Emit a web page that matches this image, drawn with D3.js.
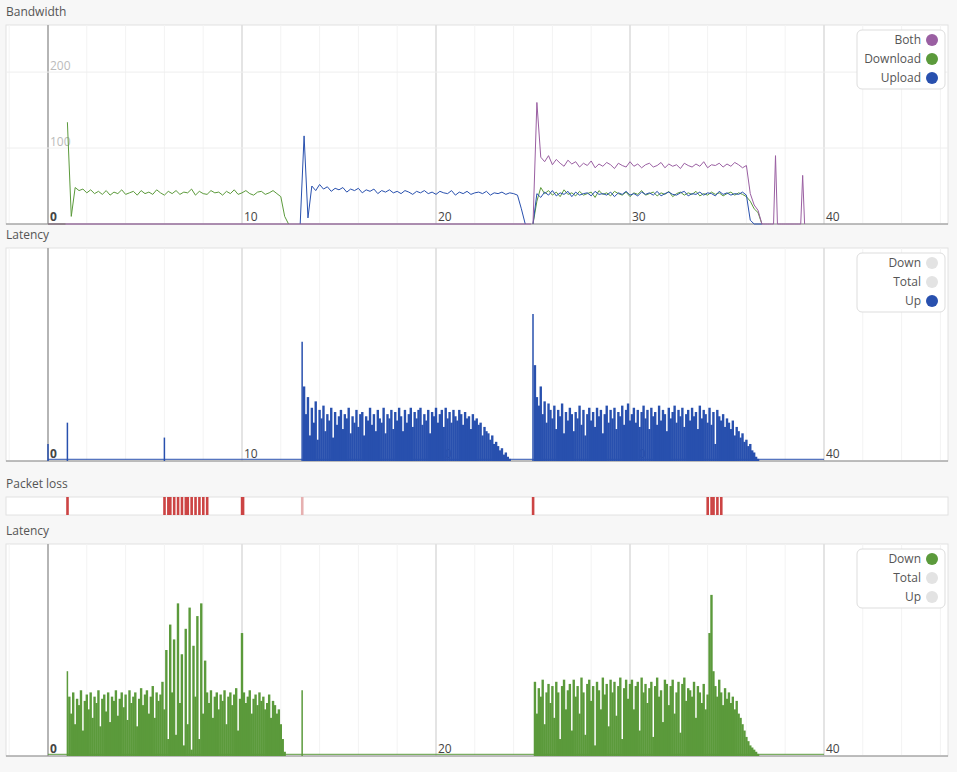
<!DOCTYPE html><html><head><meta charset="utf-8">
<script src="https://cdn.jsdelivr.net/npm/d3@7"></script>
<style>body{margin:0;background:#f7f7f7;font-family:"Open Sans",sans-serif}</style></head><body>
<svg id="c" width="957" height="772"></svg>
<script>
const xTicks=[0,10,20,30,40];
const bwTicks=[100,200];
// bandwidth segments: start time, step, values (Mbit/s)
const dlSegs=[{t0:0,step:0.9,v:[0,0]},{t0:1.0,step:0.2,v:[134,10,48,44,46,41,45,40,43,39,44,38,42,40,45,39,41,43,38,44,40,42,39,45,41,38,43,40,44,39,42,41,46,38,43,40,39,44,41,42,38,43,40,45,39,41,44,40,38,42,43,39,41,44,40,36,10,0]},
 {t0:25.0,step:0.2,v:[0,30,48,40,44,38,42,36,45,39,41,37,43,38,40,42,35,44,39,41,37,43,40,38,42,36,41,39,44,38,40,42,37,41,39,43,36,40,42,38,41,39,43,37,40,38,42,39,41,37,40,42,38,41,39,36,30,20,15,0]}];
const ulSegs=[{t0:13.0,step:0.2,v:[0,116,8,50,44,52,46,49,43,47,45,48,42,46,44,47,41,45,43,46,40,44,42,45,41,43,40,44,42,39,43,41,44,40,42,39,43,41,40,44,38,42,40,43,39,41,42,40,43,38,41,40,42,39,41,40,38,20,0]},
 {t0:25.0,step:0.2,v:[0,40,35,42,38,44,37,41,39,43,36,42,38,40,41,37,43,39,40,38,42,36,41,39,43,38,40,37,42,39,41,38,43,37,40,42,39,38,41,43,37,40,39,42,38,41,40,37,43,39,41,38,40,39,42,38,5,0,0,0]}];
const bothSegs=[{t0:0,step:24.9,v:[0,0]},{t0:25.0,step:0.2,v:[0,160,88,82,90,78,85,80,76,84,79,82,75,80,77,83,74,79,76,81,78,73,80,77,75,82,76,79,74,78,80,75,77,81,74,79,76,78,73,80,77,75,79,76,82,74,78,77,80,75,79,76,81,78,74,77,40,25,18,0]},
 {t0:36.8,step:0.1,v:[0,0,0,0,0,0,0,90,0,0,0,0,0,0,0,0,0,0,0,0,0,64,0]}];
// latency up (relative %), spikes
const upSpikes=[[0,8],[1.0,18],[6.0,11],[13.1,56],[25.0,69]];
const upSegs=[{t0:13.2,step:0.1,v:[35,22,30,12,25,18,28,10,24,20,26,14,22,19,25,11,23,17,21,24,15,22,20,25,13,21,18,24,16,22,23,12,21,19,25,17,22,14,24,20,18,25,13,22,20,24,15,23,19,25,21,14,24,18,22,25,16,23,20,24,25,17,22,19,24,13,23,21,25,18,22,24,16,25,20,23,18,24,21,19,24,22,17,23,20,21,15,22,19,20,17,18,12,16,14,13,10,12,8,9,7,5,6,3,4,2,1]},
 {t0:25.1,step:0.1,v:[45,30,26,35,22,28,18,27,24,20,26,15,24,21,27,13,23,19,25,22,14,23,20,26,17,24,12,22,25,19,23,16,25,21,24,13,22,26,18,24,20,25,15,23,21,26,17,24,27,19,22,25,18,24,16,23,26,20,24,15,25,21,23,17,26,19,24,22,14,25,20,23,26,18,24,21,25,16,22,24,19,25,21,23,15,26,20,24,22,18,25,17,23,8,24,21,19,22,16,20,18,15,19,12,16,14,11,13,9,10,7,8,5,4,2,1]}];
const upBase=[[0,0.8],[40,0.8]];
const downSpikes=[[1.0,40],[13.1,31]];
const downSegs=[{t0:1.1,step:0.1,v:[28,20,30,15,27,24,31,12,26,29,22,30,18,28,25,31,14,27,29,21,30,16,28,26,31,19,27,30,23,29,17,31,25,28,30,14,27,32,24,29,31,20,28,33,18,30,26,29,35,22,50,8,62,30,55,10,72,25,48,5,60,15,70,3,52,28,66,8,72,20,45,30,25,31,18,28,30,22,29,26,31,15,28,30,24,29,32,12,27,58,30,25,28,31,20,27,29,24,30,26,28,22,25,29,18,26,24,20,22,15,8,2]},
 {t0:25.1,step:0.1,v:[35,20,32,28,36,15,30,34,25,33,18,35,30,8,33,36,22,31,34,12,36,28,33,20,37,30,10,34,36,26,33,5,35,31,22,37,29,34,14,36,30,35,19,33,37,8,32,36,27,34,36,22,33,35,12,37,30,34,25,32,35,9,33,37,28,31,16,36,34,24,33,36,20,30,35,11,34,37,26,32,31,28,35,18,33,30,25,34,22,29,58,76,40,33,28,36,30,24,32,27,30,25,28,22,26,20,18,15,12,9,7,5,4,3,2,1]}];
const lossTimes=[1.0,6.0,6.2,6.3,6.5,6.7,6.9,7.1,7.2,7.4,7.6,7.8,8.0,8.2,10.0,10.05,13.1,25.0,34.0,34.2,34.3,34.5,34.7];
const bwLegend=[["Both","#9a5fa2"],["Download","#5b9a3b"],["Upload","#2850ae"]];
const upLegend=[["Down","#e3e3e3"],["Total","#e3e3e3"],["Up","#2850ae"]];
const dnLegend=[["Down","#5b9a3b"],["Total","#e3e3e3"],["Up","#e3e3e3"]];

const svg=d3.select("#c");
const x=d3.scaleLinear().domain([0,40]).range([48,824]);
const L=6,R=948;
function pts(segs){return segs.map(s=>s.v.map((v,i)=>[s.t0+i*s.step,v]));}
function panel(title,top,bot,ymax,labelTicks){
  svg.append("text").attr("x",6).attr("y",top-9).attr("font-size",12).attr("fill","#555").text(title);
  svg.append("rect").attr("x",L).attr("y",top).attr("width",R-L).attr("height",bot-top).attr("fill","#fff").attr("stroke","#e2e2e2");
  const y=d3.scaleLinear().domain([0,ymax]).range([bot,top]);
  const g=svg.append("g");
  g.selectAll(".mn").data(d3.range(-2,47,2)).join("line").attr("x1",d=>x(d)).attr("x2",d=>x(d)).attr("y1",top).attr("y2",bot).attr("stroke","#f3f3f3");
  g.selectAll(".mj").data(xTicks).join("line").attr("x1",d=>x(d)).attr("x2",d=>x(d)).attr("y1",top).attr("y2",bot).attr("stroke",d=>d===0?"#b5b5b5":"#dcdcdc").attr("stroke-width",d=>d===0?2:1.5);
  g.selectAll(".lb").data(labelTicks).join("text").attr("x",d=>x(d)+2).attr("y",bot-3).attr("font-size",12).attr("fill","#444").attr("font-weight",d=>d===0?"bold":"normal").text(d=>d);
  svg.append("line").attr("x1",L).attr("x2",R).attr("y1",bot).attr("y2",bot).attr("stroke","#888");
  return y;
}
function legend(top,items){
  const g=svg.append("g");
  g.append("rect").attr("x",857).attr("y",top).attr("width",88).attr("height",59).attr("rx",5).attr("fill","#fff").attr("stroke","#ddd");
  items.forEach((it,i)=>{
    g.append("text").attr("x",921).attr("y",top+14+i*19).attr("text-anchor","end").attr("font-size",12).attr("fill","#555").text(it[0]);
    g.append("circle").attr("cx",932).attr("cy",top+10+i*19).attr("r",6).attr("fill",it[1]);
  });
}
// Panel 1
const y1=panel("Bandwidth",25,224,262,xTicks);
svg.selectAll(".h1").data(bwTicks).join("line").attr("x1",L).attr("x2",R).attr("y1",d=>y1(d)).attr("y2",d=>y1(d)).attr("stroke","#eee");
svg.selectAll(".hl").data(bwTicks).join("text").attr("x",50).attr("y",d=>y1(d)-2).attr("font-size",12).attr("fill","#bbb").text(d=>d);
const line1=d3.line().x(d=>x(d[0])).y(d=>y1(d[1]));
[[dlSegs,"#5b9a3b"],[ulSegs,"#2850ae"],[bothSegs,"#9a5fa2"]].forEach(([s,c])=>{
  pts(s).forEach(p=>svg.append("path").attr("d",line1(p)).attr("fill","none").attr("stroke",c).attr("stroke-width",1));
});
legend(30,bwLegend);
// Panel 2
const y2=panel("Latency",248,461,100,xTicks);
function spikes(y,segs,sp,base,c){
  svg.append("path").attr("d",d3.line().x(d=>x(d[0])).y(d=>y(d[1]))(base)).attr("stroke",c).attr("fill","none");
  svg.selectAll(null).data(pts(segs).flat()).join("line").attr("x1",d=>x(d[0])).attr("x2",d=>x(d[0])).attr("y1",y(0)).attr("y2",d=>y(d[1])).attr("stroke",c).attr("stroke-width",2.4);
  svg.selectAll(null).data(sp).join("line").attr("x1",d=>x(d[0])).attr("x2",d=>x(d[0])).attr("y1",y(0)).attr("y2",d=>y(d[1])).attr("stroke",c).attr("stroke-width",1.5);
}
spikes(y2,upSegs,upSpikes,upBase,"#2850ae");
legend(253,upLegend);
// Packet loss
svg.append("text").attr("x",6).attr("y",488).attr("font-size",12).attr("fill","#555").text("Packet loss");
svg.append("rect").attr("x",L).attr("y",497).attr("width",R-L).attr("height",18).attr("fill","#fff").attr("stroke","#e2e2e2");
svg.selectAll(".pl").data(lossTimes).join("rect").attr("x",d=>x(d)-1.2).attr("y",497).attr("width",2.6).attr("height",18).attr("fill",d=>d===13.1?"#e6b0b0":"#cc4444");
// Panel 3
const y3=panel("Latency",544,756,100,[0,20,40]);
spikes(y3,downSegs,downSpikes,[[0,0.8],[40,0.8]],"#5b9a3b");
legend(549,dnLegend);
</script></body></html>
